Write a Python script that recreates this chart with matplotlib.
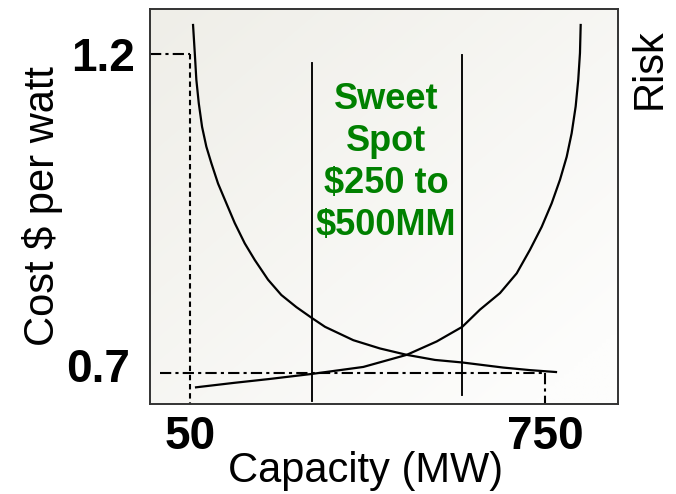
import numpy as np
import matplotlib
matplotlib.use("Agg")
import matplotlib.pyplot as plt
from matplotlib.transforms import ScaledTranslation

plt.rcParams['font.family'] = ['Liberation Sans', 'DejaVu Sans']

# ---- data ----
cost_x = [55.9, 59.3, 62.4, 67.2, 73.7, 82.1, 92.0, 105.2, 121.6, 138.1,
          157.9, 177.6, 203.8, 230.0, 259.6, 290.0, 316.2, 372.0, 424.6,
          477.3, 533.1, 586.9, 667.8, 720.4, 771.7]
cost_y = [1.246, 1.202, 1.160, 1.123, 1.086, 1.055, 1.029, 0.997, 0.966, 0.935,
          0.903, 0.877, 0.846, 0.822, 0.803, 0.786, 0.772, 0.751, 0.738,
          0.728, 0.720, 0.716, 0.708, 0.704, 0.701]

risk_x = [61.8, 136.8, 205.8, 290.0, 391.7, 477.3, 536.4, 586.9, 621.8, 661.3,
          694.2, 720.4, 743.5, 763.2, 779.6, 792.8, 802.6, 810.5, 815.6,
          819.0, 820.4]
risk_y = [0.677, 0.684, 0.690, 0.698, 0.709, 0.728, 0.749, 0.772, 0.799, 0.825,
          0.856, 0.893, 0.929, 0.966, 1.003, 1.039, 1.076, 1.118, 1.160,
          1.202, 1.246]

sweet_x = [290, 587]
sweet_y0 = [0.655, 0.665]
sweet_y1 = [1.187, 1.199]

x_ticks = [50, 750]
x_ticklabels = ['50', '750']
y_ticks = [0.7, 1.2]
y_ticklabels = ['0.7', '1.2']

sweet_text = "Sweet\nSpot\n$250 to\n$500MM"

# ---- figure ----
fig = plt.figure(figsize=(6.76, 4.94), dpi=100)
ax = fig.add_axes([150/676, 1-404/494, 468/676, 395/494])
ax.set_xlim(-29, 894)
ax.set_ylim(0.6508, 1.2711)

# background gradient
ny, nx = 100, 100
yy, xx = np.mgrid[0:1:ny*1j, 0:1:nx*1j]   # yy=0 at top
t = np.clip(0.55*yy + 0.55*xx, 0, 1)
c_tl = np.array([239, 238, 232]) / 255
c_br = np.array([253, 253, 252]) / 255
img = c_tl[None, None, :]*(1-t[..., None]) + c_br[None, None, :]*t[..., None]
ax.imshow(img, extent=[0, 1, 0, 1], transform=ax.transAxes, aspect='auto',
          zorder=0, interpolation='bilinear')

lw = 1.6
ax.plot(cost_x, cost_y, color='black', lw=lw, zorder=3, solid_joinstyle='round')
ax.plot(risk_x, risk_y, color='black', lw=lw, zorder=3, solid_joinstyle='round')

for xv, a, b in zip(sweet_x, sweet_y0, sweet_y1):
    ax.plot([xv, xv], [a, b], color='black', lw=1.35, zorder=3)

# reference lines
rlw = 1.5
dash = (0, (2.6, 1.8))
dashdot = (0, (5.4, 2.0, 1.5, 2.0))
ax.plot([-29, x_ticks[0]], [y_ticks[1], y_ticks[1]], color='black', lw=rlw, linestyle=dashdot, zorder=2)
ax.plot([x_ticks[0], x_ticks[0]], [y_ticks[1], 0.6508], color='black', lw=rlw, linestyle=dash, zorder=2)
ax.plot([-9, x_ticks[1]], [y_ticks[0], y_ticks[0]], color='black', lw=rlw, linestyle=dashdot, zorder=2)
ax.plot([x_ticks[1], x_ticks[1]], [y_ticks[0], 0.6508], color='black', lw=rlw, linestyle=dashdot, zorder=2)

ax.text(436.5, 1.030, sweet_text, color='#008000', fontsize=26, fontweight='bold',
        ha='center', va='center', multialignment='center', linespacing=1.26, zorder=4)

# ticks
ax.set_xticks(x_ticks)
ax.set_xticklabels(x_ticklabels, fontsize=33, fontweight='bold')
ax.set_yticks(y_ticks)
ax.set_yticklabels(y_ticklabels, fontsize=33, fontweight='bold')
ax.tick_params(axis='x', length=0, pad=8)
ax.tick_params(axis='y', length=0, pad=11)

for tk in ax.yaxis.get_major_ticks():
    if abs(tk.get_loc() - 0.7) < 1e-6:
        lab = tk.label1
        lab.set_transform(lab.get_transform() + ScaledTranslation(-0.05, 0.08, fig.dpi_scale_trans))

for s in ax.spines.values():
    s.set_color('#333333')
    s.set_linewidth(1.4)

ax.set_xlabel('Capacity (MW)', fontsize=30)
ax.xaxis.set_label_coords(0.46, -0.12)
ax.set_ylabel('Cost $ per watt', fontsize=30)
ax.yaxis.set_label_coords(-0.185, 0.50)

ax.text(1.068, 0.85, 'Risk', rotation=90, fontsize=30, ha='center', va='center',
        transform=ax.transAxes)

fig.savefig('out.png', dpi=100)
